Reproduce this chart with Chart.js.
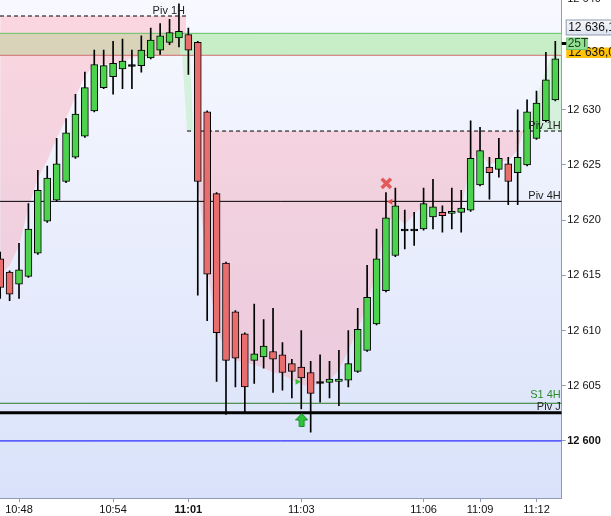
<!DOCTYPE html>
<html><head><meta charset="utf-8">
<script src="https://cdn.jsdelivr.net/npm/chart.js@4.4.1/dist/chart.umd.min.js"></script>
<style>html,body{margin:0;padding:0;background:#fff;overflow:hidden}#wrap{width:611px;height:516px;position:relative}</style>
</head><body><div id="wrap"><canvas id="c"></canvas></div>
<script>
// ---- candle data (25-tick candles) ----
const opens  = [12616.5,12615.3,12614.2,12614.9,12617.0,12619.9,12621.8,12623.5,12625.7,12627.6,
                12629.9,12632.0,12633.0,12633.7,12634.0,12634.0,12634.7,12635.4,12636.1,12636.5,
                12636.8,12636.1,12629.8,12622.4,12616.1,12611.7,12609.7,12607.3,12607.6,12608.1,
                12607.8,12607.0,12606.7,12606.2,12605.3,12605.3,12605.4,12605.5,12606.3,12608.2,
                12610.6,12613.6,12616.8,12619.1,12619.1,12619.2,12620.3,12620.7,12620.6,12620.7,
                12620.9,12623.2,12624.8,12624.6,12625.1,12624.3,12625.0,12627.4,12629.0,12630.9];
const highs  = [12617.1,12615.4,12617.9,12621.5,12624.5,12624.9,12627.4,12629.2,12631.4,12633.4,
                12635.4,12635.4,12636.2,12636.4,12635.4,12636.7,12637.4,12637.8,12638.2,12639.6,
                12637.4,12636.2,12629.9,12622.5,12616.2,12611.8,12609.8,12612.4,12611.0,12612.0,
                12608.9,12607.4,12610.0,12607.2,12607.8,12607.2,12608.2,12610.0,12612.0,12615.9,
                12619.2,12622.5,12622.9,12620.9,12620.7,12622.9,12623.7,12621.3,12622.9,12622.7,
                12629.0,12628.4,12625.7,12627.4,12625.7,12630.0,12630.9,12631.7,12635.2,12636.2];
const lows   = [12612.9,12612.7,12612.9,12614.8,12616.9,12619.8,12621.7,12623.4,12625.6,12627.5,
                12629.8,12631.9,12631.4,12631.9,12631.9,12633.4,12634.6,12635.0,12635.9,12635.7,
                12633.2,12613.2,12610.9,12605.4,12602.4,12604.9,12602.6,12605.2,12606.6,12604.4,
                12604.6,12603.9,12602.9,12600.8,12603.5,12603.9,12603.2,12604.9,12606.2,12608.1,
                12610.5,12613.5,12616.7,12617.4,12617.7,12619.1,12619.2,12618.9,12619.2,12618.9,
                12620.8,12623.1,12621.9,12623.9,12621.4,12621.4,12624.9,12627.3,12628.9,12630.8];
const closes = [12613.9,12613.3,12615.5,12619.2,12622.7,12623.8,12625.1,12627.9,12629.6,12632.0,
                12634.1,12634.0,12634.2,12634.4,12634.0,12635.4,12636.3,12636.7,12637.0,12637.1,
                12635.4,12623.5,12615.1,12609.8,12607.3,12607.5,12604.9,12607.9,12608.6,12607.4,
                12606.2,12606.3,12605.7,12604.3,12605.3,12605.6,12605.6,12607.0,12610.1,12613.0,
                12616.5,12620.2,12621.3,12619.1,12619.1,12621.5,12621.2,12620.4,12620.8,12621.1,
                12625.6,12626.3,12624.3,12625.6,12623.5,12625.7,12629.8,12630.6,12632.7,12634.6];

// ---- x axis labels (candle index -> time) ----
const xTickIdx    = [2, 12, 20, 32, 45, 51, 57];
const xTickLabels = ['10:48','10:54','11:01','11:03','11:06','11:09','11:12'];
const xBold = 20;

// ---- y axis ticks ----
const yTicks = [12600,12605,12610,12615,12620,12625,12630,12640];
const yBold = 12600;

// ---- levels ----
const levelNames  = ['Piv 1H','Piv 1H','Piv 4H','S1 4H','Piv J'];
const levelValues = [12638.49, 12628.07, 12621.7, 12603.41, 12602.55];
const levelFrom   = [-0.02, 19.86, -0.02, -0.02, -0.02];
const levelTo     = [19.75, 59.68, 59.68, 59.68, 59.68];
const roundLevel  = 12600;

// ---- zone band ----
const bandTop = 12636.92, bandBottom = 12634.93, bandSplit = 19.12;

// ---- shaded distance zones ----
const zoneAIdx  = [0,1,2,3,4,5,6,7,8,9,10,11,12,13,14,15,19.75];
const zoneAEdge = [12615.0,12615.9,12617.7,12621.1,12623.8,12625.4,12627.4,12629.2,12631.2,12633.0,
                   12634.1,12634.1,12634.1,12634.3,12634.7,12634.9,12634.9];
const zoneBIdx  = [20.5,21,22,23,24,25,26,27,28,29,30,31,32,33,34,35,36,37,38,39,40,
                   41,42,43,44,45,46,47,48,49,50,51,52,53,54,55,55.6];
const zoneBEdge = [12628.07,12623.6,12615.5,12610.1,12608.1,12607.3,12607.1,12606.9,12606.6,12606.2,12606.0,
                   12605.5,12605.1,12604.9,12605.2,12605.5,12606.4,12608.2,12610.1,12612.3,12615.5,
                   12619.6,12620.5,12619.6,12620.5,12621.4,12620.9,12620.6,12620.6,12620.9,12625.4,
                   12626.1,12625.0,12625.4,12625.3,12626.4,12628.07];
const zoneCIdx  = [55.6,56,57,58,58.7,59.68];
const zoneCEdge = [12628.07,12628.9,12631.1,12633.6,12634.93,12635.9];
const stripTopIdx = [19.33,20.18,20.5], stripTopVal = [12634.93,12634.93,12628.07];
const stripBotIdx = [19.33,19.86,20.5], stripBotVal = [12634.93,12628.07,12628.07];

// ---- markers ----
const markRedX    = {x:41.04, y:12623.33};
const markRedTri  = {x:41.5,  y:12621.67};
const markGrnTri  = {x:31.58, y:12605.36};
const markGrnUp   = {x:32.05, y:12601.9};

// ---- right-axis price tags ----
const lastPrice = 12636.0;
const askText = '12 636,1', lastText = '12 636,0', periodText = '25T';

// ================= rendering =================
const X_MIN = -0.02, X_MAX = 59.68, Y_MAX = 12639.94, Y_MIN = 12594.83;
const AXIS = '#8E9BB0';
const FONT = '"Liberation Sans", Arial, sans-serif';
const fmt = v => String(v).replace(/\B(?=(\d{3})+(?!\d))/g, ' ');
const pts = (xs, ys) => xs.map((x,i)=>({x, y: ys[i]}));
const hline = (v, a, b) => [{x:a,y:v},{x:b,y:v}];

const idx = opens.map((_,i)=>i);
const wickData = idx.map(i=>({x:i, y:[lows[i], highs[i]]}));
const bodyData = idx.map(i=>{
  const o=opens[i], c=closes[i];
  if (o===c) return {x:i, y:[o-0.08, o+0.08]};
  return {x:i, y:[Math.min(o,c), Math.max(o,c)]};
});
const bodyColor = idx.map(i=> opens[i]===closes[i] ? '#000' : (closes[i]>opens[i] ? '#4DD24D' : '#E86E6E'));

function makeArrow(){
  const c=document.createElement('canvas'); c.width=13; c.height=14;
  const g=c.getContext('2d');
  g.beginPath(); g.moveTo(6.5,0.5); g.lineTo(12.5,7); g.lineTo(9,7); g.lineTo(9,13.5);
  g.lineTo(4,13.5); g.lineTo(4,7); g.lineTo(0.5,7); g.closePath();
  g.fillStyle='#2FC23A'; g.fill(); g.strokeStyle='#15892A'; g.lineWidth=1; g.stroke();
  return c;
}

const lineBase = {type:'line', pointRadius:0, borderWidth:0, tension:0};
const PINK = 'rgba(255,150,165,0.34)';
const LGREEN = 'rgba(140,232,140,0.28)';

const datasets = [
  {...lineBase, order:100, data: pts(zoneAIdx, zoneAEdge), fill:{value: levelValues[0]}, backgroundColor: PINK},
  {...lineBase, order:100, data: pts(zoneBIdx, zoneBEdge), fill:{value: levelValues[1]}, backgroundColor: PINK},
  {...lineBase, order:100, data: pts(zoneCIdx, zoneCEdge), fill:{value: levelValues[1]}, backgroundColor: LGREEN},
  {...lineBase, order:100, data: pts(stripTopIdx, stripTopVal), fill:'+1', backgroundColor: LGREEN},
  {...lineBase, order:100, data: pts(stripBotIdx, stripBotVal), fill:false},
  {...lineBase, order:90, data: hline(bandTop, X_MIN, bandSplit), fill:{value: bandBottom}, backgroundColor:'#D9D3BA'},
  {...lineBase, order:90, data: hline(bandTop, bandSplit, X_MAX), fill:{value: bandBottom}, backgroundColor:'#C7EEC7'},
  {...lineBase, order:85, data: hline(bandTop, X_MIN, X_MAX), borderWidth:1, borderColor:'#66C266', fill:false},
  {...lineBase, order:85, data: hline(bandBottom, X_MIN, X_MAX), borderWidth:1, borderColor:'#D07070', fill:false},
  {...lineBase, order:80, data: hline(levelValues[0], levelFrom[0], levelTo[0]), borderWidth:1, borderColor:'#000', borderDash:[4,3], fill:false},
  {...lineBase, order:80, data: hline(levelValues[1], levelFrom[1], levelTo[1]), borderWidth:1, borderColor:'#000', borderDash:[4,3], fill:false},
  {...lineBase, order:80, data: hline(levelValues[2], levelFrom[2], levelTo[2]), borderWidth:1, borderColor:'#000', fill:false},
  {...lineBase, order:80, data: hline(levelValues[3], levelFrom[3], levelTo[3]), borderWidth:1, borderColor:'#267A26', fill:false},
  {...lineBase, order:80, data: hline(levelValues[4], levelFrom[4], levelTo[4]), borderWidth:3, borderColor:'#000', fill:false},
  {...lineBase, order:80, data: hline(roundLevel, X_MIN, X_MAX), borderWidth:1, borderColor:'#0000FF', fill:false},
  {type:'bar', order:70, data: wickData, backgroundColor:'#000', barThickness:1, grouped:false, borderWidth:0},
  {type:'bar', order:60, data: bodyData, backgroundColor: bodyColor, borderColor:'#000', borderWidth:1, borderSkipped:false, barThickness:7, grouped:false},
  {type:'line', order:50, showLine:false, data:[markRedX], pointStyle:'crossRot', pointRadius:6.5, pointBorderWidth:3.5, pointBorderColor:'#E25A5A', pointBackgroundColor:'#E25A5A'},
  {type:'line', order:50, showLine:false, data:[markRedTri], pointStyle:'triangle', rotation:-90, pointRadius:3.5, pointBorderWidth:0, pointBackgroundColor:'#E04848'},
  {type:'line', order:50, showLine:false, data:[markGrnTri], pointStyle:'triangle', rotation:90, pointRadius:3.5, pointBorderWidth:0, pointBackgroundColor:'#3DBE3D'},
  {type:'line', order:50, showLine:false, data:[markGrnUp], pointStyle: makeArrow(), pointRadius:7},
];

const bgPlugin = {
  id:'bg',
  beforeDraw(chart){
    const {ctx, chartArea:a, width, height} = chart;
    ctx.save();
    ctx.fillStyle='#fff'; ctx.fillRect(0,0,width,height);
    const g = ctx.createLinearGradient(0,a.top,0,a.bottom);
    g.addColorStop(0,'#F8F9FF'); g.addColorStop(1,'#D9E2FA');
    ctx.fillStyle=g; ctx.fillRect(a.left,a.top,a.right-a.left,a.bottom-a.top);
    ctx.restore();
  }
};

const labelPlugin = {
  id:'labels',
  afterDraw(chart){
    const {ctx} = chart, xs = chart.scales.x, ys = chart.scales.y;
    ctx.save();
    ctx.font = '11px ' + FONT; ctx.textAlign='right'; ctx.textBaseline='alphabetic';
    levelNames.forEach((n,i)=>{
      const x = xs.getPixelForValue(levelTo[i]) - 1;
      const dy = n==='S1 4H' ? 5 : (n==='Piv J' ? 3 : 2.5);
      ctx.fillStyle = n==='S1 4H' ? '#2A8A2A' : '#222';
      ctx.fillText(n, x, ys.getPixelForValue(levelValues[i]) - dy);
    });
    // price tags on right axis
    const ax = chart.chartArea.right, yc = ys.getPixelForValue(lastPrice);
    ctx.textAlign='left'; ctx.textBaseline='middle'; ctx.font='12px ' + FONT;
    let g = ctx.createLinearGradient(0,yc-23,0,yc-8);
    g.addColorStop(0,'#F6F7FB'); g.addColorStop(1,'#DCE2EE');
    ctx.fillStyle=g; ctx.fillRect(ax+4.5, yc-23.5, 50, 15);
    ctx.strokeStyle='#8D9AAE'; ctx.lineWidth=1; ctx.strokeRect(ax+4.5, yc-23.5, 50, 15);
    ctx.fillStyle='#111'; ctx.fillText(askText, ax+6.5, yc-15.5);
    ctx.fillStyle='#FFC20A'; ctx.fillRect(ax+4.5, yc+4, 50, 10.5);
    ctx.fillStyle='#111'; ctx.fillText(lastText, ax+6.5, yc+9.5);
    ctx.fillStyle='#93E293'; ctx.fillRect(ax+5, yc-5.5, 20.5, 11.5);
    ctx.strokeStyle='#6CC46C'; ctx.strokeRect(ax+5, yc-5.5, 20.5, 11.5);
    ctx.fillStyle='#1E3A1E'; ctx.fillText(periodText, ax+6, yc+0.5);
    ctx.fillStyle='#000'; ctx.fillRect(ax, yc-1.5, 4.5, 3);
    ctx.restore();
  }
};

new Chart(document.getElementById('c'), {
  type:'bar',
  data:{datasets},
  plugins:[bgPlugin, labelPlugin],
  options:{
    responsive:true, maintainAspectRatio:false, animation:false,
    layout:{padding:0, autoPadding:false},
    plugins:{legend:{display:false}, tooltip:{enabled:false}},
    scales:{
      x:{
        type:'linear', min:X_MIN, max:X_MAX, offset:false,
        afterFit(s){ s.height = 18; s.paddingLeft = 0; s.paddingRight = 0; s.paddingTop = 0; s.paddingBottom = 0; },
        afterBuildTicks(s){ s.ticks = xTickIdx.map(v=>({value:v})); },
        border:{display:true, color:AXIS, width:1},
        grid:{display:true, drawOnChartArea:false, drawTicks:true, tickLength:4, color:AXIS, offset:false},
        ticks:{
          autoSkip:false, maxRotation:0, padding:1, color:'#111',
          font:(c)=>({family:FONT, size:11, weight: (c.tick && c.tick.value===xBold) ? 'bold' : 'normal'}),
          callback:(v)=>{ const k = xTickIdx.indexOf(v); return k>=0 ? xTickLabels[k] : ''; }
        }
      },
      y:{
        type:'linear', position:'right', min:Y_MIN, max:Y_MAX,
        afterFit(s){ s.width = 49.3; s.paddingTop = 0; s.paddingBottom = 0; s.paddingLeft = 0; s.paddingRight = 0; },
        afterBuildTicks(s){ s.ticks = yTicks.map(v=>({value:v})); },
        border:{display:true, color:AXIS, width:1},
        grid:{display:true, drawOnChartArea:false, drawTicks:true, tickLength:4, color:AXIS},
        ticks:{
          padding:1.5, color:'#111',
          font:(c)=>({family:FONT, size:11, weight: (c.tick && c.tick.value===yBold) ? 'bold' : 'normal'}),
          callback:(v)=>fmt(v)
        }
      }
    }
  }
});
</script></body></html>
